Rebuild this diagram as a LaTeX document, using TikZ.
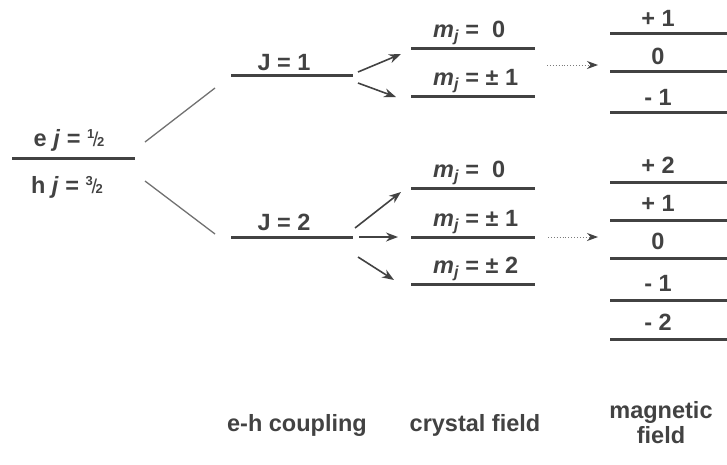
\documentclass[tikz,border=0pt]{standalone}
\usepackage{fontspec}
\setmainfont{Liberation Sans}
\usepackage{xcolor}
\usetikzlibrary{arrows.meta}

\definecolor{ink}{HTML}{424242}
% slanted fraction and m_j label
\newcommand{\slfrac}[2]{\raisebox{0.6ex}{\fontsize{13}{13}\selectfont #1}\kern-0.06em{\fontsize{20}{20}\selectfont\mdseries /}\kern-0.06em{\fontsize{13}{13}\selectfont #2}}
\newcommand{\mjlab}{\textit{m}\raisebox{-0.35ex}{\fontsize{16}{16}\selectfont\textit{j}}}

\begin{document}
\begin{tikzpicture}[
    x=1pt, y=-1pt,
    level/.style={line width=3pt, draw=ink},
    lbl/.style={font=\fontsize{23.5}{27}\selectfont\bfseries, text=ink,
                inner sep=0pt, anchor=base},
    mlbl/.style={lbl, anchor=base west},
    split/.style={line width=1.3pt, draw=ink!75},
    arrow/.style={-{Stealth[length=12pt,width=9pt]}, line width=1.6pt, draw=ink},
    dotarrow/.style={-{Stealth[length=11pt,width=8pt,color=ink]}, line width=0.9pt,
                     dotted, draw=ink!70},
]
\useasboundingbox (0,0) rectangle (727,464);

% e-h level
\coordinate (eh-l) at (12,158);
\coordinate (eh-r) at (135,158);
\draw[level] (eh-l) -- (eh-r);
\node[lbl] (elec) at (69,146) {e \textit{j} = \slfrac{1}{2}};
\node[lbl] (hole) at (67,193) {h \textit{j} = \slfrac{3}{2}};

% e-h coupling
\coordinate (J1-l) at (231,75);
\coordinate (J1-r) at (353,75);
\coordinate (J2-l) at (231,237);
\coordinate (J2-r) at (353,237);
\draw[level] (J1-l) -- (J1-r);
\draw[level] (J2-l) -- (J2-r);
\node[lbl] (J1) at (284,70) {J = 1};
\node[lbl] (J2) at (284,230) {J = 2};

\coordinate (up-a) at (145,142);
\coordinate (up-b) at (215,88);
\coordinate (dn-a) at (145,181);
\coordinate (dn-b) at (215,234);
\draw[split] (up-a) -- (up-b);
\draw[split] (dn-a) -- (dn-b);

% crystal field
\foreach \n/\y/\txt in {a0/48/{= \ 0}, a1/96/{= ± 1},
                        b0/188/{= \ 0}, b1/237/{= ± 1}, b2/284/{= ± 2}} {
  \coordinate (cf-\n-l) at (411,\y);
  \coordinate (cf-\n-r) at (535,\y);
  \draw[level] (cf-\n-l) -- (cf-\n-r);
  \node[mlbl] (cf-\n) at (433,\y-11) {\mjlab\ \txt};
}

% splitting arrows
\coordinate (J1-o1) at (358,72);
\coordinate (J1-o2) at (358,83);
\coordinate (a0-in) at (401,54);
\coordinate (a1-in) at (396,97);
\draw[arrow] (J1-o1) -- (a0-in);
\draw[arrow] (J1-o2) -- (a1-in);

\coordinate (J2-o1) at (355,228);
\coordinate (J2-o2) at (359,237);
\coordinate (J2-o3) at (358,257);
\coordinate (b0-in) at (401,192);
\coordinate (b1-in) at (398,237);
\coordinate (b2-in) at (394,280);
\draw[arrow] (J2-o1) -- (b0-in);
\draw[arrow] (J2-o2) -- (b1-in);
\draw[arrow] (J2-o3) -- (b2-in);

% magnetic field
\foreach \n/\y/\txt in {p1/33/{+ 1}, z1/71/0, m1/112/{- 1}} {
  \coordinate (mf-\n-l) at (610,\y);
  \coordinate (mf-\n-r) at (727,\y);
  \draw[level] (mf-\n-l) -- (mf-\n-r);
  \node[lbl] (mf-\n) at (658,\y-7) {\txt};
}
\foreach \n/\y/\txt in {p2/182/{+ 2}, p1/220/{+ 1}, z2/258/0, m1/300/{- 1}, m2/339/{- 2}} {
  \coordinate (mg-\n-l) at (610,\y);
  \coordinate (mg-\n-r) at (727,\y);
  \draw[level] (mg-\n-l) -- (mg-\n-r);
  \node[lbl] (mg-\n) at (658,\y-9) {\txt};
}

\coordinate (cf-a-o) at (547,65);
\coordinate (mf-a-i) at (598,65);
\coordinate (cf-b-o) at (548,237);
\coordinate (mf-b-i) at (598,237);
\draw[dotarrow] (cf-a-o) -- (mf-a-i);
\draw[dotarrow] (cf-b-o) -- (mf-b-i);

% column titles
\node[lbl] (t-eh) at (297,431) {e-h coupling};
\node[lbl] (t-cf) at (475,431) {crystal field};
\node[lbl] (t-mf) at (661,418) {magnetic};
\node[lbl] (t-mf2) at (661,443) {field};
\end{tikzpicture}
\end{document}
